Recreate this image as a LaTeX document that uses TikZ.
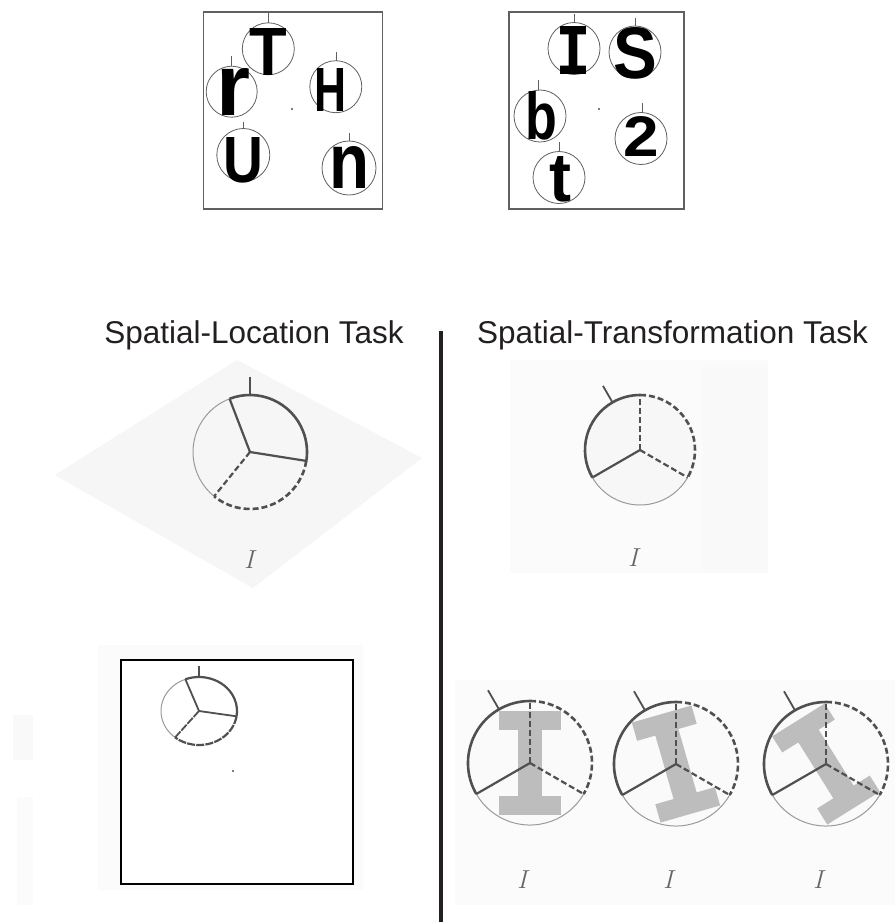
\documentclass[tikz,border=0pt]{standalone}
\usepackage{fontspec}
\usepackage{graphicx}
\newfontfamily\arialf{Liberation Sans}
\newfontfamily\monof{DejaVu Sans Mono}
\definecolor{ink}{HTML}{505050}
\definecolor{thin}{HTML}{9A9A9A}
\definecolor{ringc}{HTML}{606060}
\definecolor{igray}{HTML}{BDBDBD}
\definecolor{titlec}{HTML}{231F20}
\definecolor{labc}{HTML}{666666}
\tikzset{
  ring/.style={draw=ringc, line width=0.8pt},
  ticky/.style={draw=ringc, line width=1pt},
  thickarc/.style={draw=ink, line width=2.6pt},
  spoke/.style={draw=ink, line width=2.2pt},
  dasharc/.style={draw=ink, line width=2.6pt, dash pattern=on 6pt off 3pt},
  dashspoke/.style={draw=ink, line width=2.2pt, dash pattern=on 6pt off 3pt},
  thinarc/.style={draw=thin, line width=1pt},
  bigtick/.style={draw=ink, line width=1.8pt},
  letter/.style={inner sep=0pt, outer sep=0pt},
  ilabel/.style={inner sep=0pt, text=labc, font=\fontsize{26}{26}\selectfont\itshape},
  title/.style={inner sep=0pt, anchor=base, text=titlec, font=\arialf\fontsize{31.5}{36}\selectfont}
}
\newcommand\LB[3]{\resizebox{#1pt}{#2pt}{\arialf\bfseries #3}}
\begin{document}
\begin{tikzpicture}[x=1pt,y=-1pt]
\useasboundingbox (0,0) rectangle (895,922);
\fill[white] (0,0) rectangle (895,922);

% faint backgrounds
\fill[black!3.5] (55,475) -- (237,360) -- (422,458) -- (253,588) -- cycle;
\fill[black!1.5] (510,360) rectangle (768,573);
\fill[black!2.5] (703,365) rectangle (768,573);
\fill[black!1.5] (98,645) rectangle (363,890);
\fill[black!2.5] (13,715) rectangle (33,760);
\fill[black!1.5] (17,797) rectangle (33,905);
\fill[black!1.5] (455,680) rectangle (895,905);

% ---------- top-left box ----------
\node[draw=ringc, line width=1.2pt, minimum width=179pt, minimum height=197pt, inner sep=0pt] (box1) at (293,110.5) {};
\draw[ring] (268.3,48.8) circle (26);
\draw[ring] (231.7,91.7) circle (25.5);
\draw[ring] (335.8,86.7) circle (26);
\draw[ring] (243.3,155) circle (26.5);
\draw[ring] (349,168) circle (27);
\node[letter] (lT) at (268.5,51.5) {\LB{37.6}{47}{T}};
\node[letter] (lr) at (233.3,91.7) {\LB{34}{47}{r}};
\node[letter] (lH) at (330.3,90) {\LB{32}{43}{H}};
\node[letter] (lU) at (243.3,160.8) {\LB{39.8}{45}{U}};
\node[letter] (ln) at (350,167.5) {\LB{40}{42}{n}};
\draw[ticky] (268.5,22.8) -- (268.5,12);
\draw[ticky] (231,66.2) -- (231,56);
\draw[ticky] (336,60.7) -- (336,52);
\draw[ticky] (243.5,128.5) -- (243.5,122);
\draw[ticky] (349,141) -- (349,133);
\fill[ink] (292,109) circle (1.1);

% ---------- top-right box ----------
\node[draw=ringc, line width=1.2pt, minimum width=175pt, minimum height=197pt, inner sep=0pt] (box2) at (596.5,110.5) {};
\draw[ring] (574,48.5) circle (26);
\draw[ring] (635,52) circle (26);
\draw[ring] (540,116) circle (26);
\draw[ring] (559,177.5) circle (26);
\draw[ring] (641,138.5) circle (26);
\node[letter] (lI) at (573.7,50.8) {\resizebox{36pt}{48pt}{\monof\bfseries I}};
\node[letter] (lS) at (635,53.7) {\LB{43.7}{51}{S}};
\node[letter] (lb) at (541.7,115.8) {\LB{31.8}{48}{b}};
\node[letter] (lt) at (560,179) {\LB{22}{45}{t}};
\node[letter] (l2) at (640.8,136.7) {\LB{35.5}{40}{2}};
\draw[ticky] (574,22.5) -- (574,14);
\draw[ticky] (635,26) -- (635,18);
\draw[ticky] (538,90.2) -- (538,80);
\draw[ticky] (559,151.5) -- (559,142);
\draw[ticky] (642,112.5) -- (642,103);
\fill[ink] (599,109) circle (1.1);

% ---------- titles and divider ----------
\node[title] (ttl1) at (254,343) {Spatial-Location Task};
\node[title] (ttl2) at (672.5,343) {Spatial-Transformation Task};
\coordinate (divtop) at (441,331);
\coordinate (divbot) at (441,922);
\draw[line width=4pt, draw=titlec] (divtop) -- (divbot);

% ---------- middle-left pie ----------
\begin{scope}[shift={(250,452)}]
\draw[thinarc] (129:57) arc[start angle=129,end angle=249,radius=57];
\draw[thickarc] (-111:57) arc[start angle=-111,end angle=9,radius=57];
\draw[dasharc] (9:57) arc[start angle=9,end angle=129,radius=57];
\draw[spoke] (0,0) -- (-111:57);
\draw[spoke] (0,0) -- (9:57);
\draw[dashspoke] (0,0) -- (129:57);
\draw[bigtick] (0,-57) -- (0,-75);
\end{scope}
\node[ilabel] (lab1) at (249,560) {I};

% ---------- middle-right pie ----------
\begin{scope}[shift={(640,450)}]
\fill[black!3] (0,0) circle (55);
\draw[thinarc] (30:55) arc[start angle=30,end angle=150,radius=55];
\draw[thickarc] (150:55) arc[start angle=150,end angle=270,radius=55];
\draw[dasharc] (-90:55) arc[start angle=-90,end angle=30,radius=55];
\draw[dashspoke] (0,0) -- (-90:55);
\draw[spoke] (0,0) -- (150:55);
\draw[dashspoke] (0,0) -- (30:55);
\draw[bigtick] (-120:55) -- (-120:74);
\end{scope}
\node[ilabel] (lab2) at (633,558) {I};

% ---------- bottom-left box ----------
\node[draw=black, line width=1.6pt, fill=white, minimum width=232pt, minimum height=224pt, inner sep=0pt] (box3) at (237,772) {};
\begin{scope}[shift={(199,711)}]
\draw[thinarc] (129:38 and 34) arc[start angle=129,end angle=249,x radius=38,y radius=34];
\draw[thickarc, line width=2.2pt] (-111:38 and 34) arc[start angle=-111,end angle=9,x radius=38,y radius=34];
\draw[thickarc, line width=2.2pt, dash pattern=on 8pt off 1.2pt] (9:38 and 34) arc[start angle=9,end angle=129,x radius=38,y radius=34];
\draw[spoke, line width=1.8pt] (0,0) -- (-111:38 and 34);
\draw[spoke, line width=1.8pt] (0,0) -- (9:38 and 34);
\draw[spoke, line width=1.8pt, dash pattern=on 8pt off 1.2pt] (0,0) -- (129:38 and 34);
\draw[bigtick, line width=1.6pt] (0,-34) -- (0,-45);
\end{scope}
\fill[ink] (233,771) circle (1.2);

% ---------- bottom-right pies ----------
\foreach \cx/\cy/\rot/\nm in {530/763/0/a, 676/764/16/b, 826/764/32/c}{
  \begin{scope}[shift={(\cx,\cy)}]
    \fill[black!2] (0,0) circle (62);
    \begin{scope}
      \clip (0,0) circle (62);
      \begin{scope}[rotate=\rot]
        \fill[igray] (-31,-52) rectangle (31,-33);
        \fill[igray] (-12,-34) rectangle (12,34);
        \fill[igray] (-31,33) rectangle (31,52);
      \end{scope}
    \end{scope}
    \draw[thinarc] (30:62) arc[start angle=30,end angle=150,radius=62];
    \draw[thickarc] (150:62) arc[start angle=150,end angle=270,radius=62];
    \draw[dasharc] (-90:62) arc[start angle=-90,end angle=30,radius=62];
    \draw[dashspoke] (0,0) -- (-90:62);
    \draw[spoke] (0,0) -- (150:62);
    \draw[dashspoke] (0,0) -- (30:62);
    \draw[bigtick] (-120:62) -- (-120:84);
  \end{scope}
}
\node[ilabel] (lab3) at (522,880) {I};
\node[ilabel] (lab4) at (668,880) {I};
\node[ilabel] (lab5) at (818,880) {I};
\end{tikzpicture}
\end{document}
